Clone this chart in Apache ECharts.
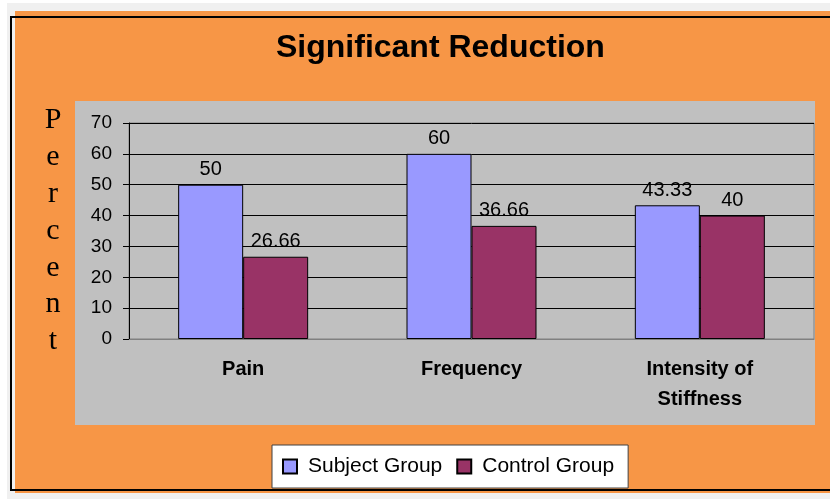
<!DOCTYPE html>
<html>
<head>
<meta charset="utf-8">
<style>
  html, body { margin: 0; padding: 0; background: #ffffff; }
  #chart { width: 830px; height: 499px; }
</style>
<script src="https://cdn.jsdelivr.net/npm/echarts@6/dist/echarts.min.js"></script>
</head>
<body>
<div id="chart"></div>
<script>
// Outcome categories and percentages of patients with a significant reduction
const categories = ['Pain', 'Frequency', 'Intensity of\nStiffness'];
const subjectGroup = [50, 60, 43.33];
const controlGroup = [26.66, 36.66, 40];
const seriesNames = ['Subject Group', 'Control Group'];
const yTicks = { min: 0, max: 70, step: 10 };

const SANS = '"Liberation Sans", Arial, sans-serif';
const SERIF = '"Liberation Serif", "Times New Roman", serif';

const chart = echarts.init(document.getElementById('chart'), null, { renderer: 'canvas' });

const barLabel = {
  show: true,
  position: 'top',
  distance: 5,
  color: '#000',
  fontSize: 20,
  fontFamily: SANS
};

chart.setOption({
  backgroundColor: '#ffffff',
  animation: false,
  graphic: [
    // page surround
    { type: 'rect', z: -10, shape: { x: 7, y: 3, width: 823, height: 496 }, style: { fill: '#f0f0f0' } },
    // orange chart area
    { type: 'rect', z: -9, shape: { x: 15, y: 11, width: 815, height: 482 }, style: { fill: '#f79646' } },
    // black frame edges
    { type: 'line', z: -8, shape: { x1: 11, y1: 16, x2: 11, y2: 491 }, style: { stroke: '#000', lineWidth: 2 } },
    { type: 'line', z: -8, shape: { x1: 10, y1: 17, x2: 830, y2: 17 }, style: { stroke: '#000', lineWidth: 2 } },
    { type: 'line', z: -8, shape: { x1: 10, y1: 490, x2: 830, y2: 490 }, style: { stroke: '#000', lineWidth: 2 } },
    // grey plot panel
    { type: 'rect', z: -7, shape: { x: 75, y: 101, width: 740, height: 324 }, style: { fill: '#c0c0c0' } },
    // vertical axis title, one letter per line
    {
      type: 'text', z: 5, x: 53, y: 231,
      style: {
        text: 'P\ne\nr\nc\ne\nn\nt',
        fill: '#000',
        font: '30px ' + SERIF,
        lineHeight: 36.8,
        align: 'center',
        verticalAlign: 'middle'
      }
    }
  ],
  title: {
    text: 'Significant Reduction',
    left: 276,
    top: 32,
    padding: 0,
    textStyle: { fontSize: 32, fontWeight: 'bold', color: '#000', fontFamily: SANS }
  },
  legend: {
    data: seriesNames,
    left: 272,
    top: 445,
    orient: 'horizontal',
    backgroundColor: '#ffffff',
    borderColor: '#404040',
    borderWidth: 1,
    borderRadius: 0,
    padding: [11, 14, 11, 10],
    itemWidth: 14,
    itemHeight: 14,
    itemGap: 14,
    icon: 'rect',
    textStyle: { fontSize: 21, color: '#000', fontFamily: SANS, padding: [0, 0, 0, 6] }
  },
  grid: {
    left: 129,
    top: 123,
    width: 685,
    height: 216,
    show: true,
    backgroundColor: 'transparent',
    borderColor: '#808080',
    borderWidth: 1,
    containLabel: false
  },
  xAxis: {
    type: 'category',
    data: categories,
    axisLine: { show: true, lineStyle: { color: '#808080', width: 1 } },
    axisTick: { show: false },
    axisLabel: {
      margin: 15,
      color: '#000',
      fontSize: 20,
      fontWeight: 'bold',
      fontFamily: SANS,
      lineHeight: 30,
      interval: 0
    },
    splitLine: { show: false }
  },
  yAxis: {
    type: 'value',
    min: yTicks.min,
    max: yTicks.max,
    interval: yTicks.step,
    axisLine: { show: true, lineStyle: { color: '#000', width: 1 } },
    axisTick: { show: true, inside: false, length: 6, lineStyle: { color: '#000' } },
    axisLabel: { margin: 17, color: '#000', fontSize: 19, fontFamily: SANS },
    splitLine: { show: true, lineStyle: { color: '#000', width: 1 } }
  },
  series: [
    {
      name: seriesNames[0],
      type: 'bar',
      data: subjectGroup,
      barWidth: 65,
      barGap: '0%',
      itemStyle: { color: '#9999ff', borderColor: '#000', borderWidth: 1 },
      label: barLabel
    },
    {
      name: seriesNames[1],
      type: 'bar',
      data: controlGroup,
      barWidth: 65,
      barGap: '0%',
      itemStyle: { color: '#993366', borderColor: '#000', borderWidth: 1 },
      label: barLabel
    }
  ]
});
</script>
</body>
</html>
